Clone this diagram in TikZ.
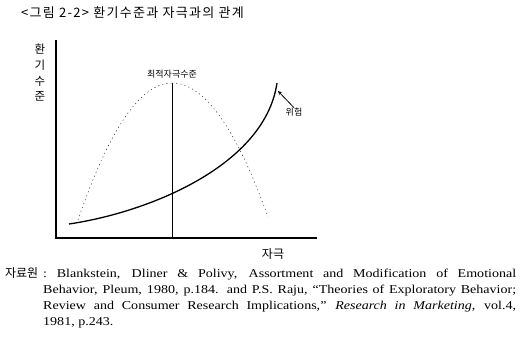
\documentclass[tikz,border=0pt]{standalone}
\usepackage{fontspec}
\setmainfont{Liberation Serif}[FakeStretch=1.17]
\newfontfamily\krfont{Noto Sans CJK KR}
\newfontfamily\krtitle{Noto Sans CJK KR}[LetterSpace=10]
\usetikzlibrary{arrows,positioning}

\begin{document}
\begin{tikzpicture}[
    x=1pt, y=-1pt,
    axis/.style={draw=black, line width=1.1pt},
    optline/.style={draw=black, line width=0.8pt},
    dotcurve/.style={draw=black!80, line width=0.5pt, dash pattern=on 1.2pt off 3pt},
    riskcurve/.style={draw=black, line width=1.3pt},
    label/.style={inner sep=0pt, font=\krfont\fontsize{9}{10}\selectfont},
    arrow/.style={->, >=stealth, thick}
]
    \useasboundingbox (0,0) rectangle (531,359);

    % title
    \node[anchor=west, inner sep=0pt, font=\krtitle\fontsize{13}{14}\selectfont] (title) at (21,13) {<그림 2-2> 환기수준과 자극과의 관계};

    % axes
    \coordinate (origin) at (56,238);
    \coordinate (ytop) at (56,40);
    \coordinate (xend) at (317,238);
    \draw[axis] (ytop) -- (origin) -- (xend);
    \node[align=center, inner sep=0pt, font=\krfont\fontsize{11.5}{15.7}\selectfont] (arousal) at (40,73) {환\\기\\수\\준};
    \node[inner sep=0pt, font=\krfont\fontsize{12}{12}\selectfont] (stim) at (273,254) {자극};

    % optimal level
    \coordinate (peak) at (172,83);
    \coordinate (peakfoot) at (172,238);
    \draw[optline] (peak) -- (peakfoot);
    \node[label] (optimal) at (172,74) {최적자극수준};

    % dotted curve
    \draw[dotcurve] plot[domain=78:172, samples=40] (\x,{83+0.0155*(\x-172)^2});
    \draw[dotcurve] plot[domain=172:268, samples=40] (\x,{83+0.01454*(\x-172)^2});

    % risk curve
    \coordinate (low) at (69,224);
    \coordinate (high) at (277,83);
    \draw[riskcurve] (low) .. controls (150,212) and (265,165) .. (high);
    \coordinate (riskpt) at (278,91);
    \node[label] (risk) at (294,112) {위험};
    \draw[arrow] (risk.north) -- (riskpt);

    % source
    \node[anchor=base west, inner sep=0pt, text width=473pt, align=justify,
          font=\fontsize{12}{16}\selectfont] (source) at (43,277)
        {\llap{\krfont 자료원\hspace{5pt}}:\ Blankstein, Dliner \& Polivy, Assortment and Modification of Emotional\linebreak
         Behavior, Pleum, 1980, p.184. and P.S. Raju, “Theories of Exploratory Behavior;\linebreak
         Review and Consumer Research Implications,” \textit{Research in Marketing}, vol.4,\linebreak
         1981, p.243.};
\end{tikzpicture}
\end{document}
